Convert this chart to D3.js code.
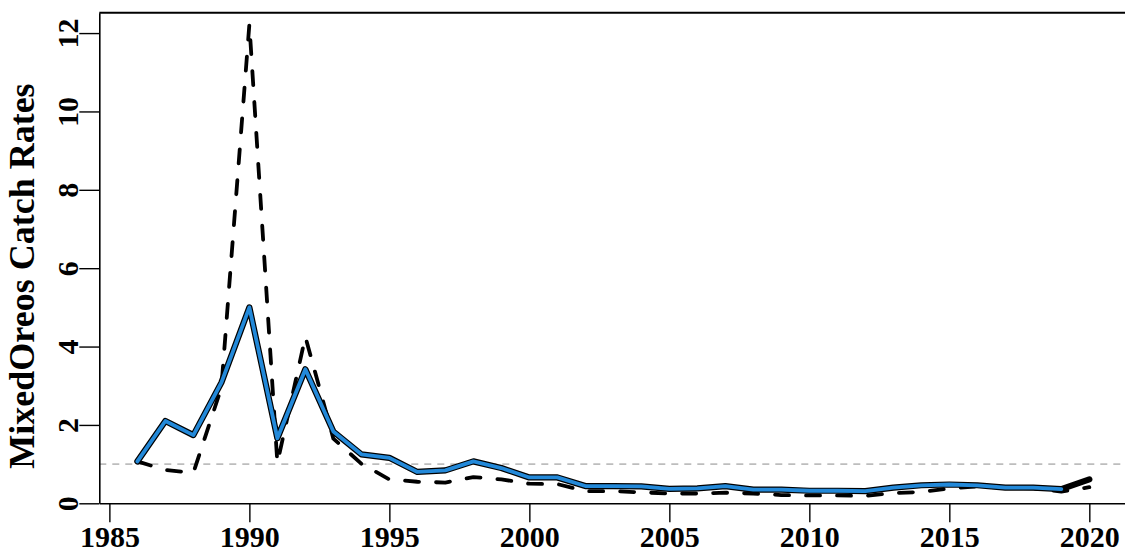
<!DOCTYPE html>
<html>
<head>
<meta charset="utf-8">
<script src="https://cdn.jsdelivr.net/npm/d3@7"></script>
<style>
  html, body { margin: 0; padding: 0; background: #fff; }
  svg { display: block; }
</style>
</head>
<body>
<svg id="chart" width="1125" height="553"></svg>
<script>
// ---- data ----
const years = [1986,1987,1988,1989,1990,1991,1992,1993,1994,1995,1996,1997,1998,1999,2000,
  2001,2002,2003,2004,2005,2006,2007,2008,2009,2010,2011,2012,2013,2014,2015,2016,2017,2018,2019,2020];
// thick (blue, outlined) series; the blue part stops at 2019, the black outline runs to 2020
const mainSeries = [1.07,2.10,1.74,3.08,5.00,1.66,3.42,1.83,1.25,1.16,0.80,0.84,1.07,0.90,0.66,
  0.66,0.44,0.44,0.43,0.37,0.38,0.44,0.35,0.35,0.32,0.32,0.31,0.40,0.46,0.48,0.46,0.40,0.40,0.36,0.61];
const blueYears = [1986,1987,1988,1989,1990,1991,1992,1993,1994,1995,1996,1997,1998,1999,2000,
  2001,2002,2003,2004,2005,2006,2007,2008,2009,2010,2011,2012,2013,2014,2015,2016,2017,2018,2019];
// dashed series
const dashedSeries = [1.07,0.85,0.78,2.95,12.22,1.03,4.25,1.65,1.01,0.61,0.55,0.53,0.67,0.61,0.50,
  0.49,0.31,0.31,0.28,0.25,0.25,0.27,0.25,0.21,0.20,0.20,0.19,0.26,0.29,0.38,0.43,0.40,0.38,0.30,0.41];
const refLevel = 1;
const xTicks = [1985,1990,1995,2000,2005,2010,2015,2020];
const yTicks = [0,2,4,6,8,10,12];
const yLabel = "MixedOreos Catch Rates";

// ---- layout ----
const svg = d3.select("#chart");
const pLeft = 99.3, pRight = 1127.4, pTop = 12.7, pBottom = 503.3;
const x = d3.scaleLinear().domain([1984.64, 2021.36]).range([pLeft, pRight]);
const y = d3.scaleLinear().domain([0, 12.52]).range([pBottom, pTop]);
const font = "'Liberation Serif', 'Times New Roman', serif";

// reference line
svg.append("line")
  .attr("x1", pLeft).attr("x2", 1125)
  .attr("y1", y(refLevel)).attr("y2", y(refLevel))
  .attr("stroke", "#bdbdbd").attr("stroke-width", 1.6)
  .attr("stroke-dasharray", "7,6");

const lineGen = d3.line().x(d => x(d[0])).y(d => y(d[1]));

const dashedData = years.map((yr, i) => [yr, dashedSeries[i]]);
const mainData = years.map((yr, i) => [yr, mainSeries[i]]);
const blueData = blueYears.map((yr, i) => [yr, mainSeries[i]]);

svg.append("path").datum(dashedData)
  .attr("d", lineGen).attr("fill", "none")
  .attr("stroke", "#000").attr("stroke-width", 3.8)
  .attr("stroke-dasharray", "14,17").attr("stroke-linecap", "round")
  .attr("stroke-linejoin", "round");

svg.append("path").datum(mainData)
  .attr("d", lineGen).attr("fill", "none")
  .attr("stroke", "#000").attr("stroke-width", 6.2)
  .attr("stroke-linejoin", "round").attr("stroke-linecap", "round");

svg.append("path").datum(blueData)
  .attr("d", lineGen).attr("fill", "none")
  .attr("stroke", "#2389d9").attr("stroke-width", 3.8)
  .attr("stroke-linejoin", "round").attr("stroke-linecap", "round");

// top border
svg.append("line")
  .attr("x1", pLeft).attr("x2", pRight)
  .attr("y1", pTop).attr("y2", pTop)
  .attr("stroke", "#000").attr("stroke-width", 2);

// x axis
const gx = svg.append("g").attr("transform", `translate(0,${pBottom})`)
  .call(d3.axisBottom(x).tickValues(xTicks).tickFormat(d3.format("d")).tickSize(19).tickSizeOuter(0));
gx.select(".domain").attr("stroke", "#000").attr("stroke-width", 1.6);
gx.selectAll(".tick line").attr("stroke", "#000").attr("stroke-width", 1.4);
gx.selectAll(".tick text")
  .attr("y", 43.4).attr("dy", 0)
  .attr("fill", "#000")
  .style("font-family", font).style("font-weight", "bold").style("font-size", "30px");

// y axis
const gy = svg.append("g").attr("transform", `translate(${pLeft},0)`)
  .call(d3.axisLeft(y).tickValues(yTicks).tickSize(20).tickSizeOuter(0));
gy.select(".domain").attr("stroke", "#000").attr("stroke-width", 1.6);
gy.selectAll(".tick line").attr("stroke", "#000").attr("stroke-width", 1.4);
gy.selectAll(".tick text")
  .attr("x", 0).attr("y", 0).attr("dy", 0)
  .attr("transform", "translate(-21,0) rotate(-90)")
  .attr("text-anchor", "middle")
  .attr("fill", "#000")
  .style("font-family", font).style("font-weight", "bold").style("font-size", "30px");

// y label
svg.append("text")
  .attr("transform", `translate(34,${(pTop + pBottom) / 2 + 18}) rotate(-90)`)
  .attr("text-anchor", "middle")
  .style("font-family", font).style("font-weight", "bold").style("font-size", "36px")
  .text(yLabel);
</script>
</body>
</html>
